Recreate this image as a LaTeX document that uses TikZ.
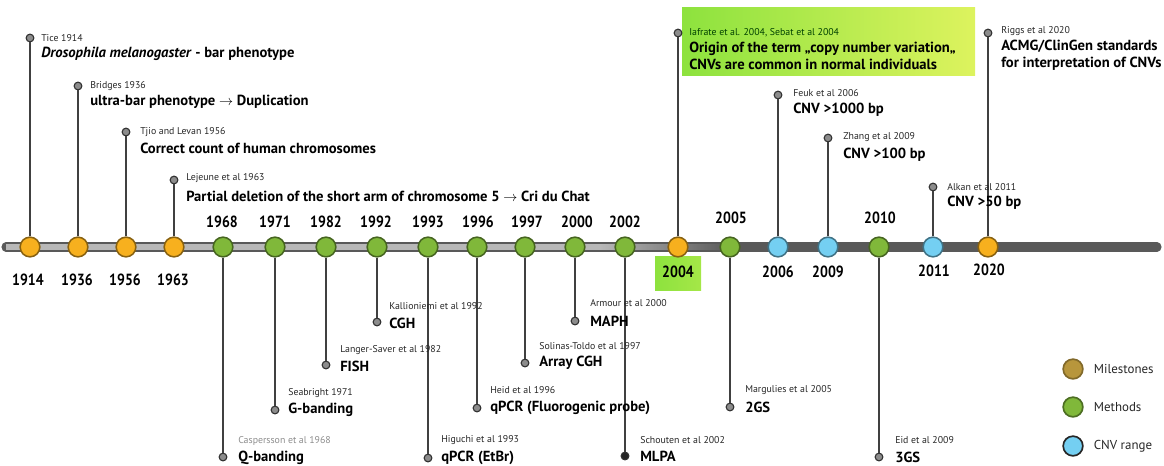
\documentclass[tikz,border=0pt]{standalone}
\usepackage{fontspec}
\setmainfont{PT Sans}
\newfontfamily\yearfont{PT Sans}[FakeStretch=0.86]
\usetikzlibrary{positioning}

\definecolor{cMile}{HTML}{F7B01E}
\definecolor{cMeth}{HTML}{80B83A}
\definecolor{cCnv}{HTML}{74CFF2}
\definecolor{cGold}{HTML}{B8963C}
\definecolor{cHiL}{HTML}{8DE23E}
\definecolor{cHiR}{HTML}{DDF35E}

\tikzset{
  yr/.style={circle, draw=#1!55!black, fill=#1, line width=1.1pt, minimum size=14pt, inner sep=0pt},
  pin/.style={circle, draw=black!80, fill=black!45, line width=0.8pt, minimum size=5.5pt, inner sep=0pt},
  stem/.style={black!75, line width=1.2pt},
  who/.style={anchor=west, inner sep=0pt, text=black!85, font=\fontsize{7}{9}\selectfont},
  what/.style={anchor=west, inner sep=0pt, align=left, font=\bfseries\fontsize{10.4}{12}\selectfont},
  year/.style={inner sep=0pt, font=\yearfont\bfseries\fontsize{11.5}{13}\selectfont},
  legend/.style={circle, line width=1.2pt, minimum size=14pt, inner sep=0pt},
  legtext/.style={anchor=west, inner sep=0pt, text=black!85, font=\fontsize{9.2}{11}\selectfont}
}

\begin{document}
\begin{tikzpicture}[x=0.025cm, y=-0.025cm]
\useasboundingbox (0,0) rectangle (1164,466);

\shade [left color=cHiL, right color=cHiR] (682,8) rectangle (975,76);
\shade [left color=cHiL, right color=cHiL!70!cHiR] (655,256) rectangle (701,290);

\coordinate (axL) at (6,247);
\coordinate (axM) at (600,247);
\coordinate (axR) at (1157,247);
\draw [line width=6.5pt, black!65, line cap=round] (axL) -- (axR);
\draw [line width=3.8pt, black!28] (axL) -- (axM);
\shade [left color=black!28, right color=black!65] (600,244.3) rectangle (730,249.7);

\node [yr=cMile] (y1914) at (30,247) {};
\node [yr=cMile] (y1936) at (78,247) {};
\node [yr=cMile] (y1956) at (126,247) {};
\node [yr=cMile] (y1963) at (174,247) {};
\node [yr=cMeth] (y1968) at (223,247) {};
\node [yr=cMeth] (y1971) at (275,247) {};
\node [yr=cMeth] (y1982) at (326,247) {};
\node [yr=cMeth] (y1992) at (377,247) {};
\node [yr=cMeth] (y1993) at (428,247) {};
\node [yr=cMeth] (y1996) at (477,247) {};
\node [yr=cMeth] (y1997) at (525,247) {};
\node [yr=cMeth] (y2000) at (575,247) {};
\node [yr=cMeth] (y2002) at (625,247) {};
\node [yr=cMile] (y2004) at (678,247) {};
\node [yr=cMeth] (y2005) at (730,247) {};
\node [yr=cCnv] (y2006) at (778,247) {};
\node [yr=cCnv] (y2009) at (828,247) {};
\node [yr=cMeth] (y2010) at (879,247) {};
\node [yr=cCnv] (y2011) at (933,247) {};
\node [yr=cMile] (y2020) at (988,247) {};

\node [year] (l1914) at (28,280) {1914};
\node [year] (l1936) at (77,280) {1936};
\node [year] (l1956) at (125,280) {1956};
\node [year] (l1963) at (173,280) {1963};
\node [year] (l1968) at (222,222) {1968};
\node [year] (l1971) at (275,222) {1971};
\node [year] (l1982) at (326,222) {1982};
\node [year] (l1992) at (376,222) {1992};
\node [year] (l1993) at (428,222) {1993};
\node [year] (l1996) at (478,222) {1996};
\node [year] (l1997) at (527,222) {1997};
\node [year] (l2000) at (577,222) {2000};
\node [year] (l2002) at (625,222) {2002};
\node [year] (l2004) at (678,272) {2004};
\node [year] (l2005) at (731,218) {2005};
\node [year] (l2006) at (778,272) {2006};
\node [year] (l2009) at (828,272) {2009};
\node [year] (l2010) at (880,218) {2010};
\node [year] (l2011) at (934,271) {2011};
\node [year] (l2020) at (989,270) {2020};

\node [pin] (p1914) at (30,38) {};
\node [pin] (p1936) at (78,86) {};
\node [pin] (p1956) at (126,132) {};
\node [pin] (p1963) at (174,180) {};
\node [pin] (p1968) at (223,457) {};
\node [pin] (p1971) at (275,410) {};
\node [pin] (p1982) at (326,365) {};
\node [pin] (p1992) at (377,322) {};
\node [pin] (p1993) at (428,458) {};
\node [pin] (p1996) at (477,408) {};
\node [pin] (p1997) at (525,363) {};
\node [pin] (p2000) at (575,321) {};
\node [pin, fill=black!85] (p2002) at (625,456) {};
\node [pin] (p2004) at (678,33) {};
\node [pin] (p2005) at (730,407) {};
\node [pin] (p2006) at (778,95) {};
\node [pin] (p2009) at (828,138) {};
\node [pin] (p2010) at (879,457) {};
\node [pin] (p2011) at (933,187) {};
\node [pin] (p2020) at (988,33) {};

\draw [stem] (y1914) -- (p1914);
\draw [stem] (y1936) -- (p1936);
\draw [stem] (y1956) -- (p1956);
\draw [stem] (y1963) -- (p1963);
\draw [stem] (y1968) -- (p1968);
\draw [stem] (y1971) -- (p1971);
\draw [stem] (y1982) -- (p1982);
\draw [stem] (y1992) -- (p1992);
\draw [stem] (y1993) -- (p1993);
\draw [stem] (y1996) -- (p1996);
\draw [stem] (y1997) -- (p1997);
\draw [stem] (y2000) -- (p2000);
\draw [stem] (y2002) -- (p2002);
\draw [stem] (y2004) -- (p2004);
\draw [stem] (y2005) -- (p2005);
\draw [stem] (y2006) -- (p2006);
\draw [stem] (y2009) -- (p2009);
\draw [stem] (y2010) -- (p2010);
\draw [stem] (y2011) -- (p2011);
\draw [stem] (y2020) -- (p2020);

\node [who] (a1914) at (41,38) {Tice 1914};
\node [what] (t1914) at (41,54) {\textit{Drosophila melanogaster} - bar phenotype};
\node [who] (a1936) at (90,86) {Bridges 1936};
\node [what] (t1936) at (90,102) {ultra-bar phenotype $\rightarrow$ Duplication};
\node [who] (a1956) at (140,132) {Tjio and Levan 1956};
\node [what] (t1956) at (140,148) {Correct count of human chromosomes};
\node [who] (a1963) at (186,178) {Lejeune et al 1963};
\node [what] (t1963) at (186,196) {Partial deletion of the short arm of chromosome 5 $\rightarrow$ Cri du Chat};

\node [who, text=black!45] (a1968) at (238,441) {Caspersson et al 1968};
\node [what] (t1968) at (238,458) {Q-banding};
\node [who] (a1971) at (288,393) {Seabright 1971};
\node [what] (t1971) at (288,410) {G-banding};
\node [who] (a1982) at (340,350) {Langer-Saver et al 1982};
\node [what] (t1982) at (340,366) {FISH};
\node [who] (a1992) at (389,306) {Kallioniemi et al 1992};
\node [what] (t1992) at (389,323) {CGH};
\node [who] (a1993) at (441,440) {Higuchi et al 1993};
\node [what] (t1993) at (441,458) {qPCR (EtBr)};
\node [who] (a1996) at (490,390) {Heid et al 1996};
\node [what] (t1996) at (490,408) {qPCR (Fluorogenic probe)};
\node [who] (a1997) at (539,346) {Solinas-Toldo et al 1997};
\node [what] (t1997) at (539,363) {Array CGH};
\node [who] (a2000) at (590,303) {Armour et al 2000};
\node [what] (t2000) at (590,321) {MAPH};
\node [who] (a2002) at (640,440) {Schouten et al 2002};
\node [what] (t2002) at (640,456) {MLPA};

\node [who, text=black!75!green] (a2004) at (689,33) {Iafrate et al. 2004, Sebat et al 2004};
\node [what, anchor=north west] (t2004) at (689,42) {Origin of the term „copy number variation„\\CNVs are common in normal individuals};
\node [who] (a2005) at (745,390) {Margulies et al 2005};
\node [what] (t2005) at (745,407) {2GS};
\node [who] (a2006) at (793,93) {Feuk et al 2006};
\node [what] (t2006) at (793,110) {CNV >1000 bp};
\node [who] (a2009) at (843,137) {Zhang et al 2009};
\node [what] (t2009) at (843,155) {CNV >100 bp};
\node [who] (a2010) at (895,440) {Eid et al 2009};
\node [what] (t2010) at (895,457) {3GS};
\node [who] (a2011) at (947,187) {Alkan et al 2011};
\node [what] (t2011) at (947,203) {CNV >50 bp};
\node [who] (a2020) at (1001,31) {Riggs et al 2020};
\node [what, anchor=north west] (t2020) at (1001,40) {ACMG/ClinGen standards\\for interpretation of CNVs};

\node [legend, draw=cGold!70!black, fill=cGold] (kMile) at (1073,369) {};
\node [legend, draw=cMeth!60!black, fill=cMeth] (kMeth) at (1073,407) {};
\node [legend, draw=black!85, fill=cCnv] (kCnv) at (1073,446) {};
\node [legtext, right=7pt of kMile] (kMileT) {Milestones};
\node [legtext, right=7pt of kMeth] (kMethT) {Methods};
\node [legtext, right=7pt of kCnv] (kCnvT) {CNV range};
\end{tikzpicture}
\end{document}
